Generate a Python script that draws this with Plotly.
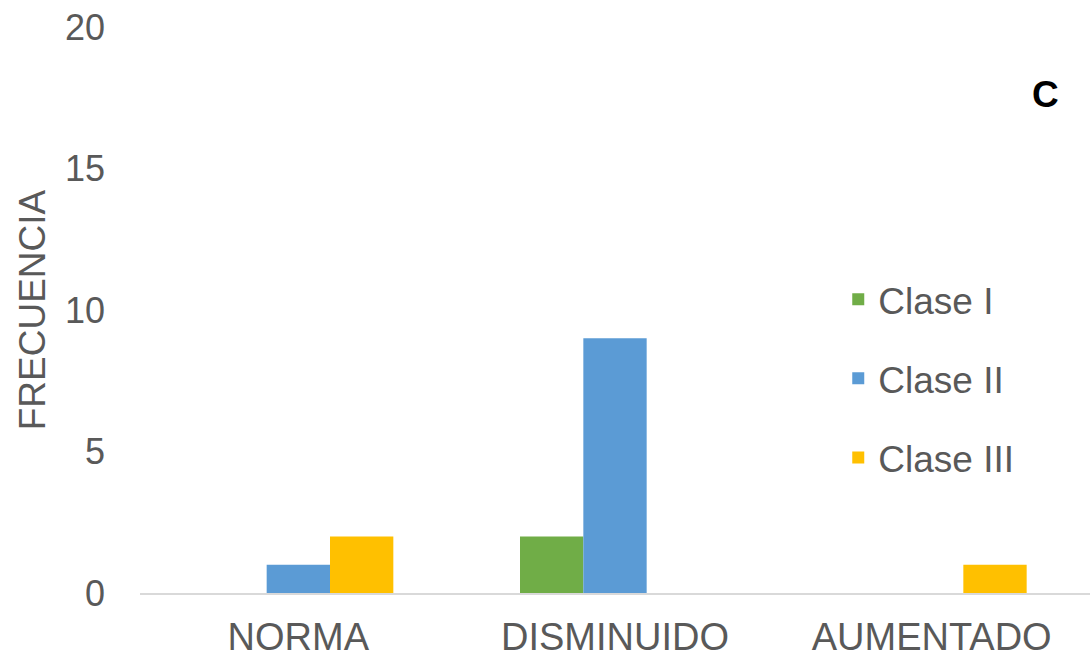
import plotly.graph_objects as go

categorias = ["NORMA", "DISMINUIDO", "AUMENTADO"]
clase_i = [0, 2, 0]
clase_ii = [1, 9, 0]
clase_iii = [2, 0, 1]
series = [
    ("Clase I", clase_i, "#70ad47"),
    ("Clase II", clase_ii, "#5b9bd5"),
    ("Clase III", clase_iii, "#ffc000"),
]
y_ticks = [0, 5, 10, 15, 20]

fig = go.Figure()
for i, (nombre, valores, color) in enumerate(series):
    fig.add_trace(go.Bar(
        name=nombre, x=categorias, y=valores,
        marker=dict(color=color, line=dict(width=0)),
        legendgroup=f"g{i}",
    ))

gris = "#595959"
fig.update_layout(
    width=1090, height=659,
    margin=dict(l=140, r=0, t=27, b=66),
    paper_bgcolor="white", plot_bgcolor="white",
    font=dict(family="Liberation Sans, Arial, sans-serif", color=gris, size=37),
    barmode="group", bargap=0.4, bargroupgap=0,
    showlegend=True,
    legend=dict(
        x=0.735, y=0.573, xanchor="left", yanchor="top",
        font=dict(size=37, color=gris),
        tracegroupgap=28, itemwidth=30,
        bgcolor="rgba(0,0,0,0)",
    ),
    xaxis=dict(
        showgrid=False, showline=True, linecolor="#d9d9d9", linewidth=1.5,
        ticks="", tickfont=dict(size=38, color=gris), ticklabelstandoff=10,
    ),
    yaxis=dict(
        range=[0, 20], tickvals=y_ticks, showgrid=False, zeroline=False,
        showline=False, ticks="", tickfont=dict(size=36, color=gris),
        ticklabelstandoff=34,
        title=dict(text="FRECUENCIA", font=dict(size=37, color=gris), standoff=8),
    ),
    annotations=[dict(
        text="<b>C</b>", showarrow=False, font=dict(size=37, color="black"),
        xref="paper", yref="paper",
        x=(1045 - 140) / 950, y=(593 - 95) / 566,
        xanchor="center", yanchor="middle",
    )],
)

fig.write_html("out.html")
